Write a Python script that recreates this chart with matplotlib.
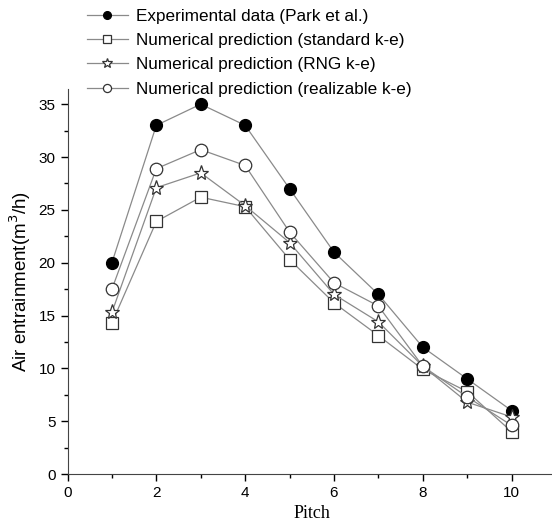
import numpy as np
import matplotlib.pyplot as plt

pitch = [1, 2, 3, 4, 5, 6, 7, 8, 9, 10]
exp_park = [20, 33, 35, 33, 27, 21, 17, 12, 9, 6]
std_ke = [14.3, 23.9, 26.2, 25.3, 20.3, 16.2, 13.1, 9.9, 7.8, 4.0]
rng_ke = [15.3, 27.1, 28.5, 25.4, 21.9, 17.0, 14.4, 10.2, 6.8, 5.4]
real_ke = [17.5, 28.9, 30.7, 29.2, 22.9, 18.1, 15.9, 10.2, 7.3, 4.6]

plt.rcParams['font.family'] = 'Liberation Sans'

fig = plt.figure(figsize=(5.52, 5.24), dpi=100)
ax = fig.add_axes([0.1223, 0.0954, 0.885, 0.735])

lc = '#8a8a8a'
ec = '#333333'
l1, = ax.plot(pitch, exp_park, '-', color=lc, lw=0.9, marker='o', ms=8.5,
              mfc='black', mec='black', label='Experimental data (Park et al.)')
l2, = ax.plot(pitch, std_ke, '-', color=lc, lw=0.9, marker='s', ms=8,
              mfc='white', mec=ec, mew=0.9, label='Numerical prediction (standard k-e)')
l3, = ax.plot(pitch, rng_ke, '-', color=lc, lw=0.9, marker='*', ms=11,
              mfc='white', mec=ec, mew=0.9, label='Numerical prediction (RNG k-e)')
l4, = ax.plot(pitch, real_ke, '-', color=lc, lw=0.9, marker='o', ms=9,
              mfc='white', mec=ec, mew=0.9, label='Numerical prediction (realizable k-e)')

ax.set_xlim(0, 11)
ax.set_ylim(0, 36.45)
ax.set_xticks(np.arange(0, 11, 2))
ax.set_xticks(np.arange(0, 11, 1), minor=True)
ax.set_yticks(np.arange(0, 36, 5))
ax.set_yticks(np.arange(0, 36, 2.5), minor=True)
ax.tick_params(which='major', direction='out', length=5, width=1, labelsize=11)
ax.tick_params(which='minor', direction='out', length=3, width=1)
for s in ['top', 'right']:
    ax.spines[s].set_visible(False)
for s in ['left', 'bottom']:
    ax.spines[s].set_color('#444444')

ax.set_xlabel('Pitch', fontfamily='Liberation Serif', fontsize=13, labelpad=4)
ax.set_ylabel('Air entrainment(m$^3$/h)', fontsize=13.5, labelpad=4)

fig.legend(handles=[l1, l2, l3, l4], loc='upper left', bbox_to_anchor=(0.142, 1.0),
           frameon=False, fontsize=12.3, handlelength=2.4, handletextpad=0.5,
           labelspacing=0.55, borderaxespad=0.1, markerscale=0.65)

fig.savefig('out.png', dpi=100)
